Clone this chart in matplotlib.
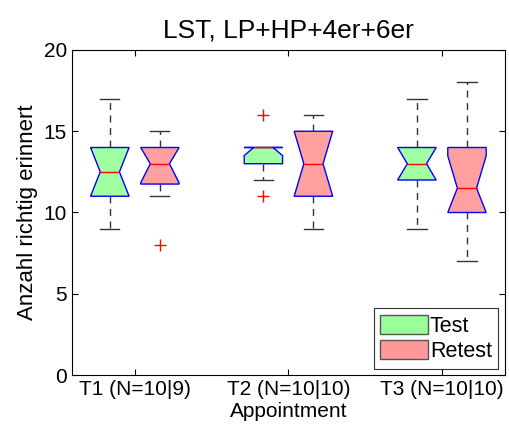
import numpy as np
import matplotlib
matplotlib.use("Agg")
import matplotlib.pyplot as plt
from matplotlib.patches import Patch

plt.rcParams['font.family'] = ['Liberation Sans', 'DejaVu Sans']

# values (boxplot statistics)
appointments = ["T1 (N=10|9)", "T2 (N=10|10)", "T3 (N=10|10)"]
groups = ["Test", "Retest"]

test_q1 = [11, 13, 12]
test_med = [12.5, 14, 13]
test_q3 = [14, 14, 14]
test_lo = [9, 12, 9]
test_hi = [17, 14, 17]
test_out = [[], [11, 16], []]
test_n = [10, 10, 10]

retest_q1 = [11.75, 11, 10]
retest_med = [13, 13, 11.5]
retest_q3 = [14, 15, 14]
retest_lo = [11, 9, 7]
retest_hi = [15, 16, 18]
retest_out = [[8], [], []]
retest_n = [9, 10, 10]


def make_stats(q1, med, q3, lo, hi, out, n):
    stats = []
    for i in range(len(q1)):
        ci = 1.57 * (q3[i] - q1[i]) / np.sqrt(n[i])
        stats.append(dict(q1=q1[i], med=med[i], q3=q3[i],
                          whislo=lo[i], whishi=hi[i], fliers=out[i],
                          cilo=max(med[i] - ci, q1[i]),
                          cihi=min(med[i] + ci, q3[i])))
    return stats


fig = plt.figure(figsize=(5.1, 4.25), dpi=100)
ax = fig.add_axes([0.141, 0.1176, 0.849, 0.7648])

pos = np.arange(1, len(appointments) + 1)
off = 0.163
colors = ['#a0ffa0', '#ffa0a0']

for k, st in enumerate([make_stats(test_q1, test_med, test_q3, test_lo, test_hi, test_out, test_n),
                        make_stats(retest_q1, retest_med, retest_q3, retest_lo, retest_hi, retest_out, retest_n)]):
    ax.bxp(st, positions=pos + (2 * k - 1) * off, widths=0.25, shownotches=True,
           patch_artist=True, manage_ticks=False,
           boxprops=dict(facecolor=colors[k], edgecolor='#0000ff', linewidth=1.0),
           medianprops=dict(color='red', linewidth=1.0),
           whiskerprops=dict(color='#333333', linestyle=(0, (5, 4)), linewidth=1.0),
           capprops=dict(color='#333333', linewidth=1.0),
           flierprops=dict(marker='+', markeredgecolor='red', markersize=8, linestyle='none'))

ax.set_xlim(0.59, 3.41)
ax.set_ylim(0, 20)
ax.set_xticks(pos)
ax.set_xticklabels(appointments)
ax.set_yticks([0, 5, 10, 15, 20])
ax.tick_params(direction='in', top=True, right=True, labelsize=15, length=4, width=0.8)
for s in ax.spines.values():
    s.set_linewidth(0.8)

ax.set_title("LST, LP+HP+4er+6er", fontsize=19, pad=9)
ax.set_xlabel("Appointment", fontsize=15, labelpad=2)
ax.set_ylabel("Anzahl richtig erinnert", fontsize=16, labelpad=4)

handles = [Patch(facecolor='#99ff99', edgecolor='#555555', label='Test'),
           Patch(facecolor='#ff9999', edgecolor='#555555', label='Retest')]
leg = ax.legend(handles=handles, loc='lower right', fontsize=15.5, fancybox=False,
                edgecolor='#333333', framealpha=1, handlelength=2.2, handleheight=1.0,
                handletextpad=0.1, borderpad=0.3, labelspacing=0.15,
                borderaxespad=0.3)
leg.get_frame().set_linewidth(0.8)

fig.savefig("out.png", dpi=100)
